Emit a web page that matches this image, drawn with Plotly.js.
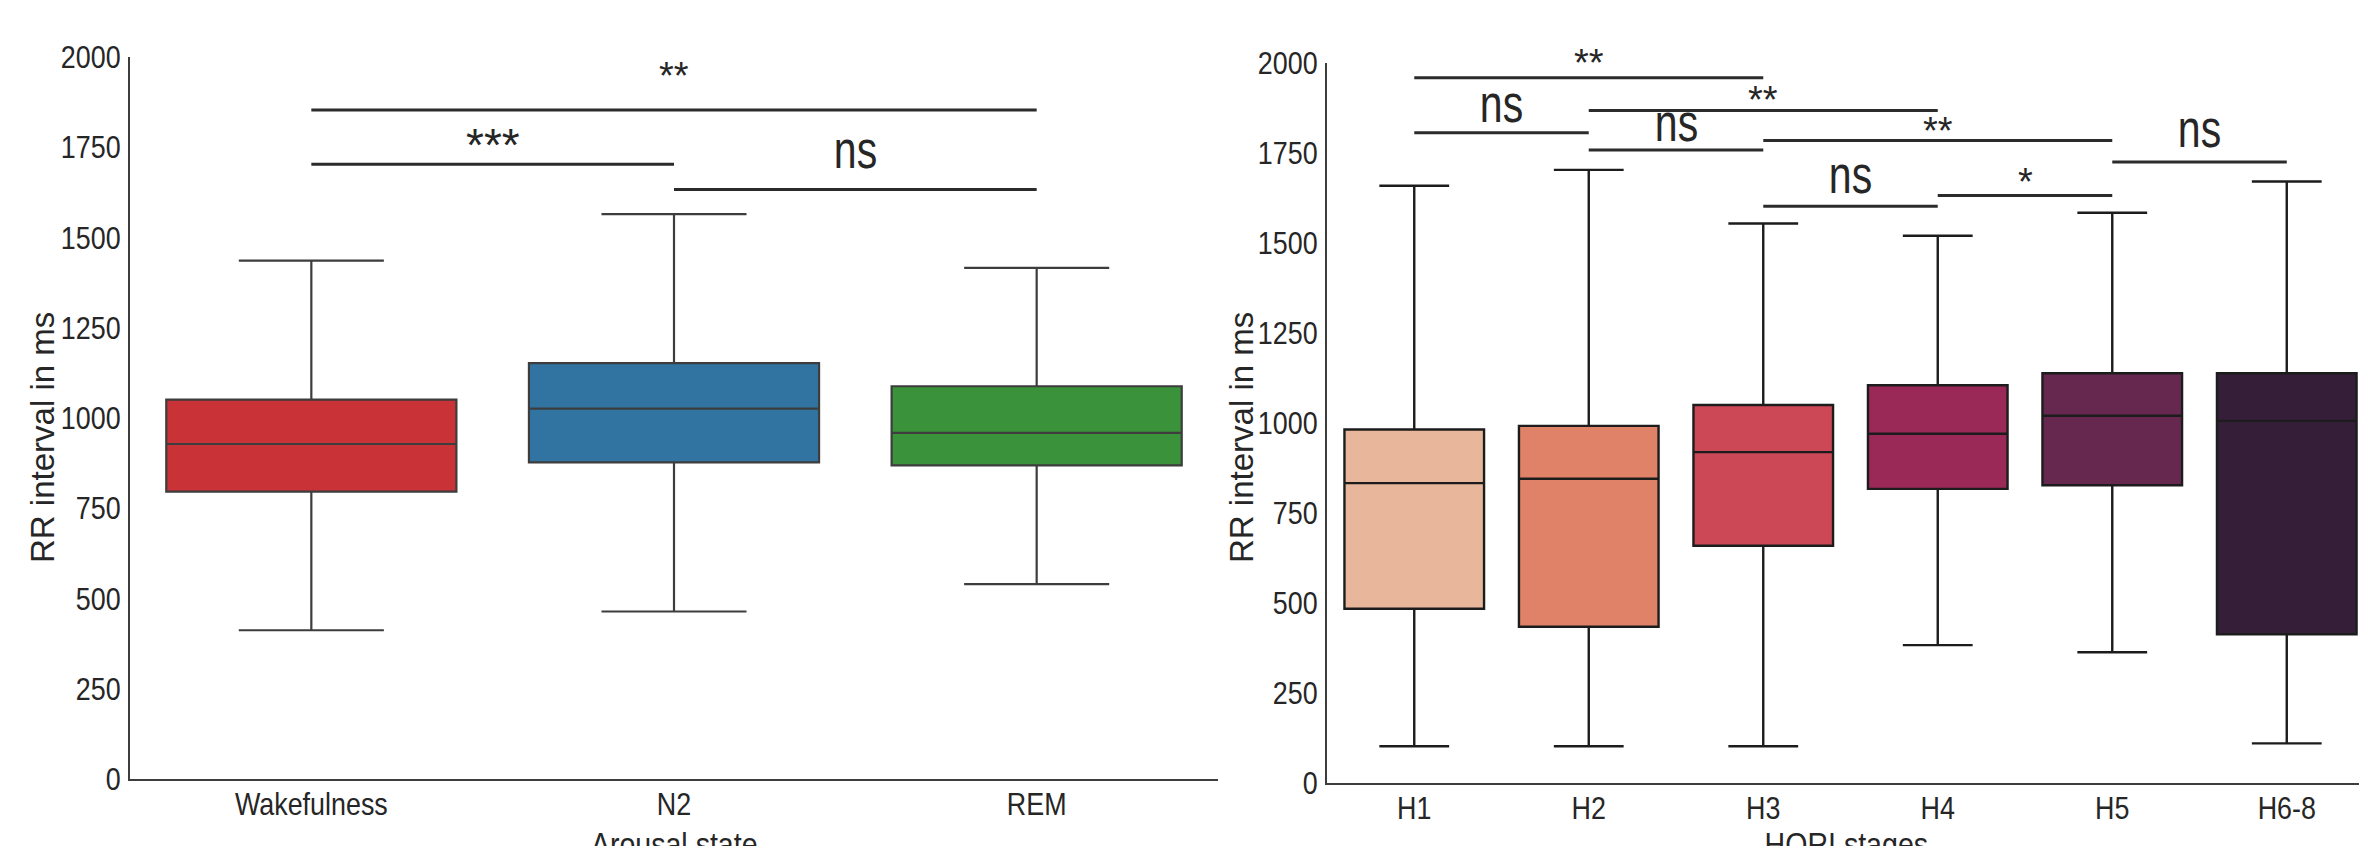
<!DOCTYPE html>
<html>
<head>
<meta charset="utf-8">
<script src="https://cdn.plot.ly/plotly-3.0.1.min.js"></script>
<style>html,body{margin:0;padding:0;background:#fff;}#chart{width:2359px;height:846px;}</style>
</head>
<body>
<div id="chart"></div>
<script>
// ---------- DATA (values in ms) ----------
const arousalStates = ["Wakefulness", "N2", "REM"];
const arousalLower  = [412, 464, 540];
const arousalQ1     = [796, 877, 869];
const arousalMedian = [928, 1026, 959];
const arousalQ3     = [1051, 1152, 1088];
const arousalUpper  = [1436, 1565, 1416];

const horiStages  = ["H1", "H2", "H3", "H4", "H5", "H6-8"];
const horiLower   = [102, 102, 102, 383, 363, 110];
const horiQ1      = [484, 434, 659, 817, 827, 413];
const horiMedian  = [833, 845, 919, 970, 1020, 1006];
const horiQ3      = [982, 992, 1050, 1105, 1138, 1138];
const horiUpper   = [1659, 1703, 1554, 1520, 1584, 1671];

const yTicks = [0, 250, 500, 750, 1000, 1250, 1500, 1750, 2000];

// significance comparisons: [from, to], bar height (ms), label
const arousalSigPairs  = [["Wakefulness", "REM"], ["Wakefulness", "N2"], ["N2", "REM"]];
const arousalSigLevels = [1853, 1703, 1633];
const arousalSigLabels = ["**", "***", "ns"];

const horiSigPairs  = [["H1","H3"], ["H2","H4"], ["H1","H2"], ["H3","H5"], ["H2","H3"], ["H5","H6-8"], ["H4","H5"], ["H3","H4"]];
const horiSigLevels = [1959, 1868, 1806, 1785, 1758, 1725, 1632, 1602];
const horiSigLabels = ["**", "**", "ns", "**", "ns", "ns", "*", "ns"];

// ---------- STYLE ----------
const arousalColors = ["#c93337", "#3274a1", "#3a923a"];
const horiColors = ["#e8b79b", "#e08268", "#cc4857", "#9b2958", "#66284f", "#341e38"];
const arousalLabelShift = [11, -9, 8];
const horiLabelShift = [-8, -12, -2, -14, -4, 2, -10, 0];

const W = 2359, H = 846;
const FONT = "Liberation Sans, Arial, sans-serif";
const TXT = "#262626";
const SQUEEZE_TICKS = 0.84, SQUEEZE_NS = 0.76, SQUEEZE_XTITLE = 0.84;

function px(x) { return x / W; }
function py(y) { return (H - y) / H; }

const traces = [];
arousalStates.forEach((c, i) => {
  traces.push({
    type: "box", x: [c], q1: [arousalQ1[i]], median: [arousalMedian[i]], q3: [arousalQ3[i]],
    lowerfence: [arousalLower[i]], upperfence: [arousalUpper[i]],
    xaxis: "x", yaxis: "y", width: 0.8, whiskerwidth: 0.5, boxpoints: false,
    fillcolor: arousalColors[i], line: {color: "#3d3d3d", width: 2.2},
    showlegend: false, hoverinfo: "skip"
  });
});
horiStages.forEach((c, i) => {
  traces.push({
    type: "box", x: [c], q1: [horiQ1[i]], median: [horiMedian[i]], q3: [horiQ3[i]],
    lowerfence: [horiLower[i]], upperfence: [horiUpper[i]],
    xaxis: "x2", yaxis: "y2", width: 0.8, whiskerwidth: 0.5, boxpoints: false,
    fillcolor: horiColors[i], line: {color: "#1c1c1c", width: 2.4},
    showlegend: false, hoverinfo: "skip"
  });
});

const shapes = [];
const annotations = [];
function addSig(pairs, levels, labels, shifts, cats, xr, yr) {
  pairs.forEach((p, k) => {
    const a = cats.indexOf(p[0]), b = cats.indexOf(p[1]);
    shapes.push({type: "line", xref: xr, yref: yr, x0: a, x1: b, y0: levels[k], y1: levels[k],
      line: {color: "#2b2b2b", width: 3}});
    const lab = labels[k];
    const size = lab === "ns" ? 54 : (lab === "***" ? 46 : 38);
    annotations.push({xref: xr, yref: yr, x: (a + b) / 2, y: levels[k], text: lab,
      showarrow: false, xanchor: "center", yanchor: "bottom", yshift: shifts[k],
      font: {family: FONT, size: size, color: TXT}});
  });
}
addSig(arousalSigPairs, arousalSigLevels, arousalSigLabels, arousalLabelShift, arousalStates, "x", "y");
addSig(horiSigPairs, horiSigLevels, horiSigLabels, horiLabelShift, horiStages, "x2", "y2");

// axis titles
annotations.push({xref: "paper", yref: "paper", x: px(42), y: py(438), text: "RR interval in ms",
  textangle: -90, showarrow: false, xanchor: "center", yanchor: "middle",
  font: {family: FONT, size: 33, color: TXT}});
annotations.push({xref: "paper", yref: "paper", x: px(1241), y: py(438), text: "RR interval in ms",
  textangle: -90, showarrow: false, xanchor: "center", yanchor: "middle",
  font: {family: FONT, size: 33, color: TXT}});
annotations.push({xref: "paper", yref: "paper", x: px(674), y: py(823), text: "Arousal state",
  showarrow: false, xanchor: "center", yanchor: "top",
  font: {family: FONT, size: 34, color: TXT}});
annotations.push({xref: "paper", yref: "paper", x: px(1846), y: py(823), text: "HORI stages",
  showarrow: false, xanchor: "center", yanchor: "top",
  font: {family: FONT, size: 34, color: TXT}});

const tickFont = {family: FONT, size: 32, color: TXT};
const xBase = {type: "category", showline: true, linecolor: "#3d3d3d", linewidth: 2,
  showgrid: false, zeroline: false, ticks: "", tickfont: tickFont, ticklabelstandoff: -4, fixedrange: true};
const yBase = {range: [0, 2000], tickvals: yTicks, showline: true, linecolor: "#3d3d3d", linewidth: 2,
  showgrid: false, zeroline: false, ticks: "", tickfont: tickFont, ticklabelstandoff: 1, fixedrange: true};

const layout = {
  width: W, height: H, margin: {l: 0, r: 0, t: 0, b: 0}, paper_bgcolor: "#fff", plot_bgcolor: "#fff",
  boxmode: "overlay", showlegend: false,
  xaxis: Object.assign({}, xBase, {domain: [px(130), px(1218)], range: [-0.5, 2.5], anchor: "y"}),
  yaxis: Object.assign({}, yBase, {domain: [py(779), py(57)], anchor: "x"}),
  xaxis2: Object.assign({}, xBase, {domain: [px(1327), 1], range: [-0.5, 5.414], anchor: "y2"}),
  yaxis2: Object.assign({}, yBase, {domain: [py(783), py(63)], anchor: "x2"}),
  shapes: shapes, annotations: annotations
};

// the reference uses a condensed face; compress the glyphs horizontally (text stays text)
function squeeze(el, f) {
  const L = el.getComputedTextLength();
  if (L > 0) {
    el.setAttribute("textLength", (L * f).toFixed(2));
    el.setAttribute("lengthAdjust", "spacingAndGlyphs");
  }
}
Plotly.newPlot("chart", traces, layout, {staticPlot: true, displayModeBar: false}).then(() => {
  document.querySelectorAll("#chart .xtick text, #chart .ytick text, #chart .x2tick text, #chart .y2tick text")
    .forEach(t => squeeze(t, SQUEEZE_TICKS));
  document.querySelectorAll("#chart .annotation-text").forEach(t => {
    const s = t.textContent;
    if (s === "ns") squeeze(t, SQUEEZE_NS);
    else if (s === "Arousal state" || s === "HORI stages") squeeze(t, SQUEEZE_XTITLE);
  });
});
</script>
</body>
</html>
